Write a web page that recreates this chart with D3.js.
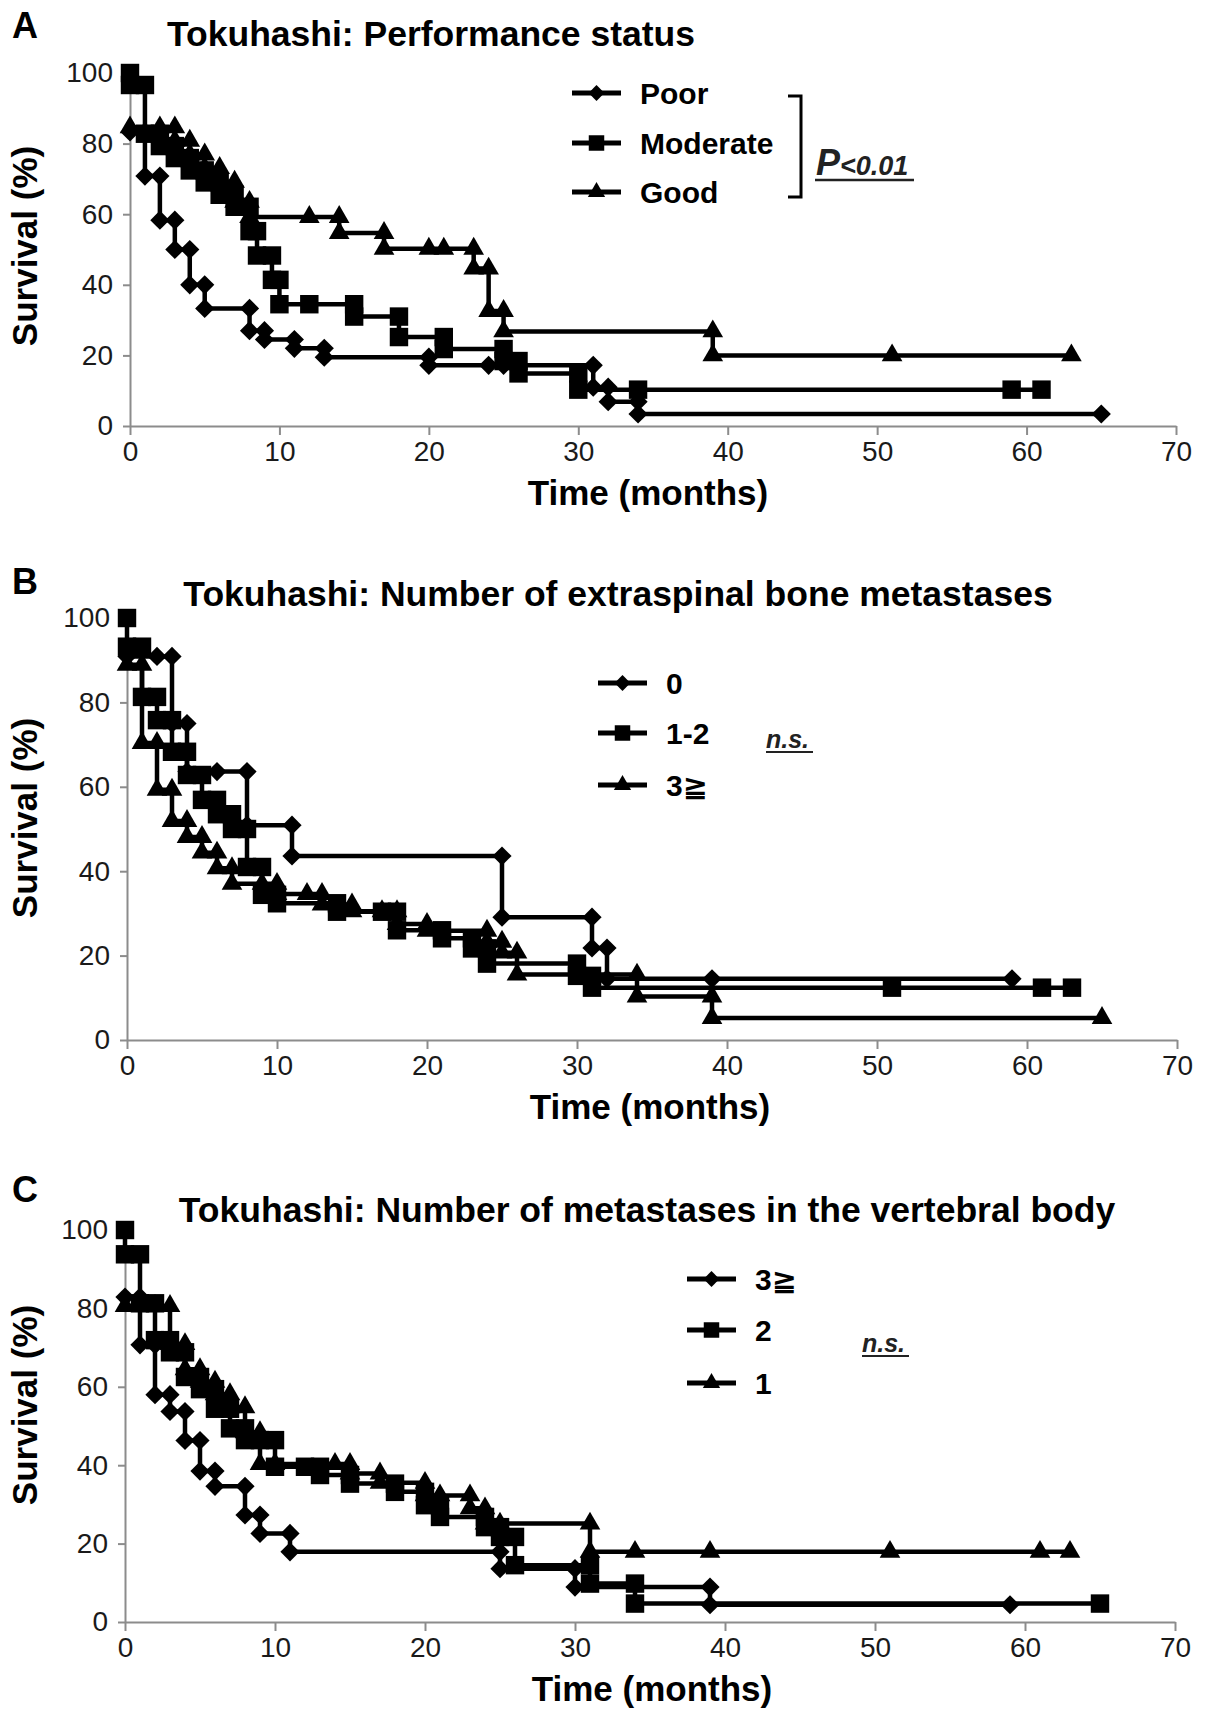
<!DOCTYPE html>
<html>
<head>
<meta charset="utf-8">
<script src="https://cdn.jsdelivr.net/npm/d3@7"></script>
<style>
  body { margin: 0; background: #fff; }
  svg text { font-family: "Liberation Sans", Arial, "DejaVu Sans", "Noto Sans CJK JP", sans-serif; }
</style>
</head>
<body>
<div id="container"></div>
<script>
// ---- data (months, survival %) : corner points of each KM step curve ----
// A: performance status
const poorT = [0,1,1,2,2,3,3,4,4,5,5,8,8,9,9,11,11,13,13,20,20,24,25,31,31,32,32,34,34,65];
const poorS = [83.3,83.3,70.8,70.8,58.3,58.3,50,50,40,40,33.3,33.3,27,27,24.5,24.5,22,22,19.5,19.5,17.2,17.2,17.2,17.2,11,11,6.9,6.9,3.4,3.4];
const moderateT = [0,0,1,1,2,2,3,3,4,4,5,5,6,6,7,7,8,8,8.5,8.5,9.5,9.5,10,10,12,15,15,18,18,21,21,25,25,26,26,30,30,34,59,61];
const moderateS = [100,96.6,96.6,82.8,82.8,79.3,79.3,75.9,75.9,72.4,72.4,69,69,65.5,65.5,62.1,62.1,55.2,55.2,48.3,48.3,41.4,41.4,34.5,34.5,34.5,31,31,25.2,25.2,21.8,21.8,18.4,18.4,14.9,14.9,10.3,10.3,10.3,10.3];
const goodT = [0,2,3,3,4,4,5,5,6,6,7,7,8,8,12,14,14,17,17,20,21,23,23,24,24,25,25,39,39,51,63];
const goodS = [84.6,84.6,84.6,80.8,80.8,76.9,76.9,73.1,73.1,69.2,69.2,63.5,63.5,59.2,59.2,59.2,54.7,54.7,50.2,50.2,50.2,50.2,44.6,44.6,32.6,32.6,26.8,26.8,20,20,20];
// B: number of extraspinal bone metastases
const ext0T = [0,2,3,3,4,4,6,8,8,11,11,25,25,31,31,32,32,39,59];
const ext0S = [90.9,90.9,90.9,75,75,63.6,63.6,63.6,50.9,50.9,43.6,43.6,29.1,29.1,21.8,21.8,14.5,14.5,14.5];
const ext12T = [0,0,1,1,2,2,3,3,4,4,5,5,6,6,7,7,8,8,9,9,10,10,14,14,17,18,18,21,21,23,23,24,24,30,30,31,31,51,61,63];
const ext12S = [100,93.2,93.2,81.3,81.3,75.8,75.8,68.3,68.3,62.8,62.8,56.9,56.9,53.5,53.5,50,50,41,41,34.4,34.4,32.4,32.4,30.4,30.4,30.4,26,26,24.1,24.1,21.7,21.7,18.1,18.1,15.2,15.2,12.4,12.4,12.4,12.4];
const ext3T = [0,1,1,2,2,3,3,4,4,5,5,6,6,7,7,9,10,10,12,13,13,15,15,17,18,18,20,20,24,24,25,25,26,26,34,34,39,39,65];
const ext3S = [88.9,88.9,70.4,70.4,59.3,59.3,51.9,51.9,48.1,48.1,44.4,44.4,40.7,40.7,37,37,37,34.6,34.6,34.6,32.1,32.1,30.5,30.5,30.5,27.5,27.5,25.9,25.9,23.3,23.3,20.7,20.7,15.5,15.5,10.3,10.3,5.2,5.2];
// C: number of metastases in the vertebral body
const vb3T = [0,1,1,2,2,3,3,4,4,5,5,6,6,8,8,9,9,11,11,25,25,30,30,39,39,59];
const vb3S = [82.9,82.9,70.7,70.7,58,58,53.7,53.7,46.3,46.3,38.5,38.5,34.6,34.6,27.3,27.3,22.6,22.6,17.9,17.9,13.6,13.6,8.9,8.9,4.4,4.4];
const vb2T = [0,0,1,1,2,2,3,3,4,4,5,5,6,6,7,7,8,8,9,10,10,12,13,13,15,15,18,18,20,20,21,21,24,24,25,25,26,26,31,31,34,34,65];
const vb2S = [100,93.8,93.8,81.3,81.3,71.9,71.9,68.8,68.8,62.5,62.5,59.4,59.4,54.4,54.4,49.4,49.4,46.4,46.4,46.4,39.6,39.6,39.6,37.5,37.5,35.3,35.3,33.2,33.2,29.8,29.8,26.8,26.8,24.2,24.2,21.7,21.7,14.5,14.5,9.8,9.8,4.7,4.7];
const vb1T = [0,2,3,3,4,4,5,5,6,6,7,7,8,8,9,9,10,14,15,15,17,17,20,20,21,23,23,24,24,25,31,31,34,39,51,61,63];
const vb1S = [80.6,80.6,80.6,70.9,70.9,64.5,64.5,61.3,61.3,58.1,58.1,54.8,54.8,48.4,48.4,40.3,40.3,40.3,40.3,37.9,37.9,35.5,35.5,32.3,32.3,32.3,29,29,25.1,25.1,25.1,17.9,17.9,17.9,17.9,17.9,17.9];

const xTicks = [0,10,20,30,40,50,60,70];
const yTicks = [0,20,40,60,80,100];
const panelLetters = ["A","B","C"];
const panelTitles = ["Tokuhashi: Performance status",
                     "Tokuhashi: Number of extraspinal bone metastases",
                     "Tokuhashi: Number of metastases in the vertebral body"];
const legendA = ["Poor","Moderate","Good"];
const legendB = ["0","1-2","3≧"];
const legendC = ["3≧","2","1"];

// ---- layout ----
const W = 1205, H = 1722;
const svg = d3.select("#container").append("svg")
  .attr("width", W).attr("height", H);

const symbols = [d3.symbolDiamond2, d3.symbolSquare, d3.symbolTriangle];
const plotSize = [235, 340, 185];
const legSize = [160, 240, 130];

const panels = [
  { x0: 130, x1: 1176, y0: 426, y1: 73, letterY: 38, titleX: 431, titleY: 46, survY: 246, timeX: 648,
    series: [[poorT, poorS], [moderateT, moderateS], [goodT, goodS]], names: legendA,
    legX: 572, legY: [93, 143, 192] },
  { x0: 127, x1: 1177, y0: 1040, y1: 618, letterY: 594, titleX: 618, titleY: 606, survY: 818, timeX: 650,
    series: [[ext0T, ext0S], [ext12T, ext12S], [ext3T, ext3S]], names: legendB,
    legX: 598, legY: [683, 733, 785], ns: [766, 748] },
  { x0: 125, x1: 1175, y0: 1622, y1: 1230, letterY: 1202, titleX: 647, titleY: 1222, survY: 1405, timeX: 652,
    series: [[vb3T, vb3S], [vb2T, vb2S], [vb1T, vb1S]], names: legendC,
    legX: 687, legY: [1279, 1330, 1383], ns: [862, 1352] }
];

panels.forEach((p, pi) => {
  const x = d3.scaleLinear().domain([0, 70]).range([p.x0, p.x1]);
  const y = d3.scaleLinear().domain([0, 100]).range([p.y0, p.y1]);
  const g = svg.append("g");

  // axes
  const xa = g.append("g").attr("transform", `translate(0,${p.y0})`)
    .call(d3.axisBottom(x).tickValues(xTicks).tickSizeInner(9).tickSizeOuter(0).tickPadding(6));
  const ya = g.append("g").attr("transform", `translate(${p.x0},0)`)
    .call(d3.axisLeft(y).tickValues(yTicks).tickSizeInner(7).tickSizeOuter(0).tickPadding(10));
  [xa, ya].forEach(a => {
    a.select(".domain").attr("stroke", "#8c8c8c").attr("stroke-width", 2);
    a.selectAll(".tick line").attr("stroke", "#8c8c8c").attr("stroke-width", 2);
    a.selectAll(".tick text").attr("font-size", 28).attr("fill", "#1a1a1a")
      .style("font-family", "'Liberation Sans', Arial, sans-serif");
  });

  // panel letter, title, axis titles
  g.append("text").attr("x", 12).attr("y", p.letterY).attr("font-size", 36)
    .attr("font-weight", "bold").text(panelLetters[pi]);
  g.append("text").attr("x", p.titleX).attr("y", p.titleY).attr("text-anchor", "middle")
    .attr("font-size", 35.5).attr("font-weight", "bold").text(panelTitles[pi]);
  g.append("text").attr("x", p.timeX).attr("y", p.y0 + 79).attr("text-anchor", "middle")
    .attr("font-size", 35).attr("font-weight", "bold").text("Time (months)");
  g.append("text").attr("transform", `translate(37,${p.survY}) rotate(-90)`)
    .attr("text-anchor", "middle").attr("font-size", 35).attr("font-weight", "bold")
    .text("Survival (%)");

  // curves
  const line = d3.line().x(d => x(d[0])).y(d => y(d[1]));
  p.series.forEach(([t, s]) => {
    g.append("path").datum(d3.zip(t, s)).attr("d", line)
      .attr("fill", "none").attr("stroke", "#000").attr("stroke-width", 4.5)
      .attr("stroke-linejoin", "miter");
  });
  p.series.forEach(([t, s], si) => {
    g.append("g").selectAll("path").data(d3.zip(t, s)).join("path")
      .attr("transform", d => `translate(${x(d[0])},${y(d[1])})`)
      .attr("d", d3.symbol(symbols[si], plotSize[si]))
      .attr("fill", "#000");
  });

  // legend
  const lg = g.append("g");
  p.names.forEach((n, i) => {
    const ly = p.legY[i];
    lg.append("line").attr("x1", p.legX).attr("x2", p.legX + 49)
      .attr("y1", ly).attr("y2", ly).attr("stroke", "#000").attr("stroke-width", 5);
    lg.append("path").attr("transform", `translate(${p.legX + 24.5},${ly})`)
      .attr("d", d3.symbol(symbols[i], legSize[i])).attr("fill", "#000");
    lg.append("text").attr("x", p.legX + 68).attr("y", ly + 10.5)
      .attr("font-size", 30).attr("font-weight", "bold").text(n);
  });

  if (pi === 0) {
    // bracket and p value
    lg.append("path").attr("d", "M788,96H801V197H788")
      .attr("fill", "none").attr("stroke", "#000").attr("stroke-width", 3);
    const pt = lg.append("text").attr("x", 816).attr("y", 175)
      .attr("font-weight", "bold").attr("font-style", "italic").attr("fill", "#222");
    pt.append("tspan").attr("font-size", 36).text("P");
    pt.append("tspan").attr("font-size", 27).text("<0.01");
    lg.append("line").attr("x1", 815).attr("x2", 914).attr("y1", 180).attr("y2", 180)
      .attr("stroke", "#222").attr("stroke-width", 2.5);
  } else {
    lg.append("text").attr("x", p.ns[0]).attr("y", p.ns[1])
      .attr("font-size", 25).attr("font-weight", "bold").attr("font-style", "italic")
      .attr("fill", "#222").text("n.s.");
    lg.append("line").attr("x1", p.ns[0]).attr("x2", p.ns[0] + 47)
      .attr("y1", p.ns[1] + 4).attr("y2", p.ns[1] + 4)
      .attr("stroke", "#222").attr("stroke-width", 2);
  }
});
</script>
</body>
</html>
